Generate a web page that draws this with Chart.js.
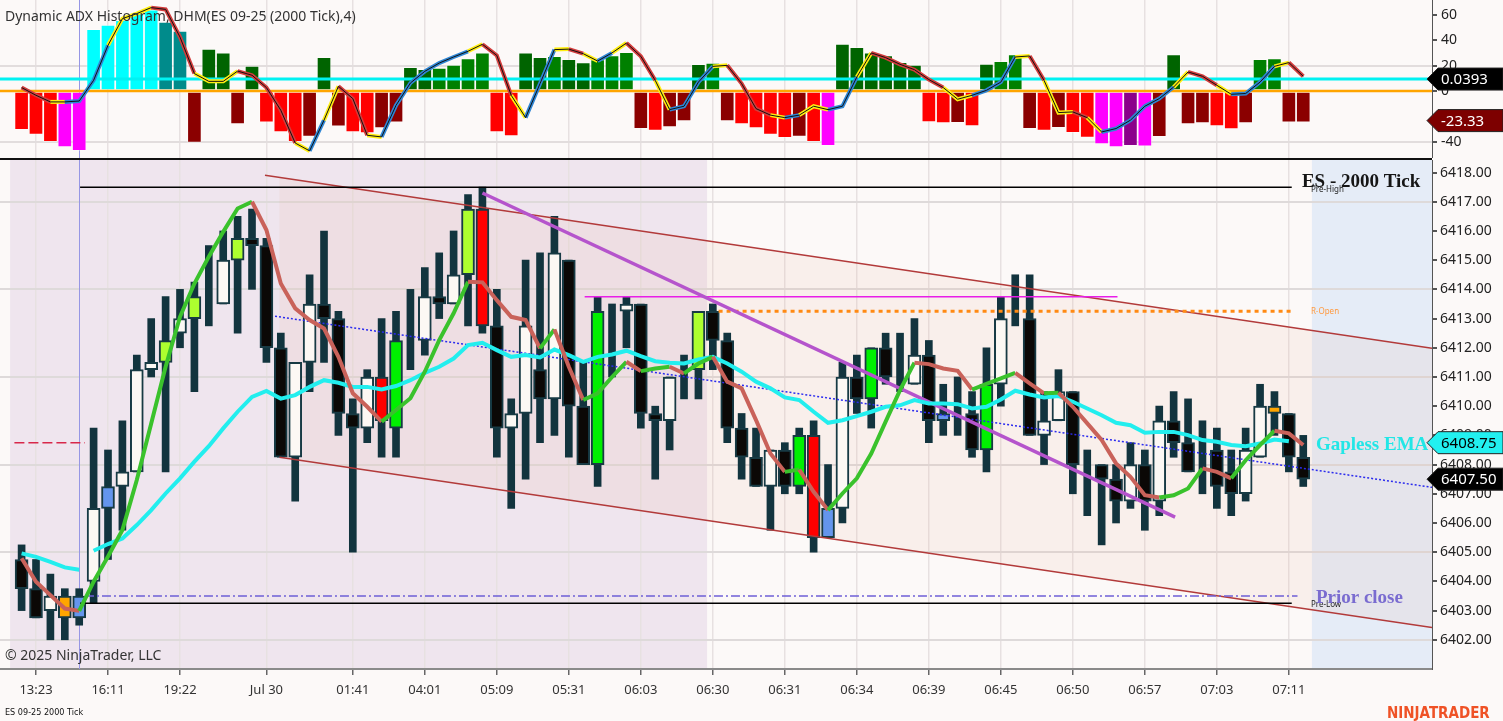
<!DOCTYPE html>
<html>
<head>
<meta charset="utf-8">
<script src="https://cdn.jsdelivr.net/npm/chart.js@4.4.1/dist/chart.umd.min.js"></script>
<style>
html, body { margin: 0; padding: 0; background: #fcf9f8; overflow: hidden; }
#wrap { position: relative; width: 1503px; height: 721px; }
canvas { position: absolute; left: 0; }
#adx { top: 0; }
#price { top: 158px; }
#sep { position: absolute; left: 0; top: 158px; width: 1432px; height: 2px; background: #111; }
</style>
</head>
<body>
<div id="wrap">
  <canvas id="adx" width="1503" height="158"></canvas>
  <canvas id="price" width="1503" height="563"></canvas>
  <div id="sep"></div>
</div>
<script>
// x axis: one slot per 2000-tick bar
const tickBars = [1, 6, 11, 17, 23, 28, 33, 38, 43, 48, 53, 58, 63, 68, 73, 78, 83, 88];
const tickLabels = ["13:23", "16:11", "19:22", "Jul 30", "01:41", "04:01", "05:09", "05:31", "06:03",
    "06:30", "06:31", "06:34", "06:39", "06:45", "06:50", "06:57", "07:03", "07:11"];

// price bars
const opens = [6404.75, 6403.75, 6403.0, 6403.5, 6402.75, 6404.0, 6406.5, 6407.25, 6407.75, 6411.25,
    6411.5, 6412.5, 6413.0, 6413.75, 6413.5, 6415.0, 6415.75, 6415.5, 6412.0, 6408.25,
    6411.5, 6413.5, 6413.0, 6409.75, 6409.25, 6411.0, 6409.25, 6412.25, 6412.25, 6413.75,
    6413.5, 6414.5, 6416.75, 6412.75, 6409.25, 6409.75, 6411.25, 6410.25, 6415.0, 6410.0,
    6408.0, 6413.25, 6413.25, 6413.5, 6409.75, 6409.5, 6411.0, 6411.25, 6413.25, 6412.25,
    6409.25, 6408.25, 6407.25, 6408.5, 6407.25, 6409.0, 6405.5, 6406.5, 6411.0, 6410.25,
    6412.0, 6411.0, 6410.75, 6411.75, 6409.5, 6409.75, 6409.75, 6408.5, 6410.75, 6413.0,
    6413.0, 6409.0, 6409.5, 6410.5, 6408.0, 6408.0, 6407.5, 6406.75, 6408.0, 6406.75,
    6409.5, 6408.75, 6408.5, 6408.5, 6407.75, 6407.0, 6408.25, 6410.0, 6409.75, 6408.25];
const highs = [6405.25, 6404.75, 6404.25, 6403.75, 6403.75, 6409.25, 6408.5, 6409.5, 6411.75, 6413.0,
    6413.75, 6414.0, 6414.25, 6415.5, 6416.0, 6416.5, 6416.75, 6415.75, 6412.5, 6411.5,
    6414.5, 6416.0, 6413.25, 6410.25, 6411.25, 6413.0, 6413.25, 6414.0, 6414.75, 6415.25,
    6416.0, 6417.25, 6417.5, 6414.0, 6410.25, 6415.0, 6415.25, 6416.5, 6415.0, 6411.5,
    6413.75, 6413.5, 6413.75, 6413.5, 6410.0, 6411.0, 6411.75, 6413.25, 6413.5, 6412.5,
    6409.75, 6409.25, 6408.5, 6408.75, 6409.25, 6409.5, 6408.0, 6411.5, 6411.75, 6412.0,
    6412.5, 6412.5, 6413.0, 6412.25, 6410.75, 6411.0, 6410.5, 6412.0, 6413.75, 6414.5,
    6414.5, 6410.5, 6411.25, 6410.5, 6408.5, 6408.0, 6408.0, 6408.75, 6408.5, 6410.0,
    6410.5, 6410.25, 6409.5, 6409.25, 6408.5, 6409.25, 6410.75, 6410.5, 6409.75, 6409.0];
const lows = [6403.0, 6402.75, 6402.0, 6402.0, 6402.5, 6403.25, 6404.75, 6405.75, 6407.75, 6411.0,
    6407.75, 6412.0, 6410.5, 6412.75, 6413.5, 6412.5, 6414.0, 6411.5, 6408.25, 6406.75,
    6410.5, 6411.5, 6409.0, 6405.0, 6408.75, 6408.25, 6408.25, 6411.25, 6411.75, 6413.0,
    6413.5, 6412.75, 6412.5, 6408.25, 6406.5, 6407.5, 6408.75, 6409.0, 6408.25, 6408.0,
    6407.25, 6411.0, 6412.0, 6409.25, 6407.5, 6408.5, 6410.25, 6410.25, 6411.25, 6408.75,
    6407.5, 6407.25, 6405.75, 6407.0, 6407.0, 6405.0, 6405.5, 6406.0, 6409.75, 6409.25,
    6410.75, 6410.5, 6410.75, 6408.75, 6409.0, 6409.0, 6408.25, 6407.75, 6410.0, 6412.75,
    6409.0, 6408.0, 6409.5, 6407.0, 6406.25, 6405.25, 6406.0, 6406.5, 6405.75, 6406.25,
    6408.25, 6407.75, 6407.0, 6406.5, 6406.25, 6406.75, 6408.25, 6409.0, 6407.75, 6407.25];
const closes = [6403.75, 6402.75, 6403.5, 6402.75, 6403.5, 6406.5, 6407.25, 6407.75, 6411.25, 6411.5,
    6412.25, 6413.0, 6413.75, 6413.75, 6415.0, 6415.75, 6415.5, 6412.0, 6408.25, 6411.5,
    6413.5, 6413.0, 6409.75, 6409.25, 6411.0, 6409.5, 6412.25, 6412.25, 6413.75, 6413.5,
    6414.5, 6416.75, 6412.75, 6409.25, 6409.75, 6412.75, 6410.25, 6415.25, 6410.0, 6408.0,
    6413.25, 6413.25, 6413.5, 6409.75, 6409.5, 6411.0, 6411.0, 6413.25, 6412.25, 6409.25,
    6408.25, 6407.25, 6408.5, 6407.25, 6409.0, 6405.5, 6406.5, 6411.0, 6410.25, 6412.0,
    6411.0, 6411.0, 6411.75, 6409.5, 6409.75, 6409.75, 6408.5, 6410.75, 6413.0, 6413.0,
    6409.0, 6409.5, 6410.5, 6408.0, 6408.0, 6407.5, 6406.75, 6408.0, 6406.75, 6409.5,
    6408.75, 6407.75, 6408.5, 6407.25, 6407.0, 6408.5, 6410.0, 6409.75, 6408.25, 6407.5];
// bars painted by a signal: L lime, G green, R red, B blue, O orange, . none
const paintSignal = ("...OB.B..." + "L.L..L...." + ".....RG..." + ".LR......." + "G......L.." +
    "....GRB..G" + "....B..G.." + ".........." + ".......O..").split("");

// gapless EMA (cyan) and fast MA (green up / salmon down)
const gaplessEma = [6404.96, 6404.84, 6404.67, 6404.48, 6404.4, 6405.05, 6405.28, 6405.47, 6405.93, 6406.44,
    6407.01, 6407.53, 6408.1, 6408.63, 6409.24, 6409.81, 6410.32, 6410.52, 6410.26, 6410.38,
    6410.66, 6410.89, 6410.8, 6410.66, 6410.66, 6410.57, 6410.69, 6410.89, 6411.14, 6411.35,
    6411.63, 6412.09, 6412.17, 6411.92, 6411.69, 6411.75, 6411.67, 6411.94, 6411.75, 6411.52,
    6411.69, 6411.77, 6411.9, 6411.71, 6411.54, 6411.49, 6411.46, 6411.6, 6411.69, 6411.46,
    6411.18, 6410.84, 6410.61, 6410.3, 6410.21, 6409.81, 6409.43, 6409.52, 6409.66, 6409.81,
    6409.98, 6410.03, 6410.21, 6410.09, 6410.09, 6410.07, 6409.92, 6409.98, 6410.23, 6410.53,
    6410.4, 6410.3, 6410.35, 6410.15, 6409.92, 6409.69, 6409.43, 6409.35, 6409.09, 6409.12,
    6409.12, 6409.01, 6408.84, 6408.78, 6408.67, 6408.63, 6408.72, 6408.86, 6408.8, null];
const emaGapAfter = 4;
const fastMa = [6404.79, 6403.99, 6403.53, 6403.07, 6402.99, 6403.99, 6404.85, 6405.76, 6407.47, 6409.41,
    6411.35, 6413.06, 6414.2, 6415.12, 6415.97, 6416.77, 6417.0, 6416.03, 6414.2, 6413.35,
    6412.95, 6412.66, 6411.69, 6410.44, 6409.98, 6409.47, 6409.87, 6410.27, 6411.18, 6412.26,
    6413.18, 6414.26, 6414.24, 6413.63, 6413.06, 6412.95, 6411.98, 6412.63, 6411.35, 6410.21,
    6410.44, 6411.0, 6411.52, 6411.2, 6411.29, 6411.35, 6411.12, 6411.46, 6411.69, 6410.84,
    6410.61, 6409.52, 6408.38, 6407.75, 6407.83, 6407.07, 6406.44, 6407.01, 6407.53, 6408.38,
    6409.47, 6410.55, 6411.49, 6411.44, 6411.29, 6411.21, 6410.57, 6410.76, 6410.95, 6411.14,
    6410.78, 6410.44, 6410.46, 6409.98, 6409.41, 6408.84, 6408.04, 6407.58, 6406.95, 6406.87,
    6406.95, 6407.18, 6407.87, 6407.75, 6407.53, 6408.15, 6408.67, 6409.16, 6409.07, 6408.67];

// drawn objects: [bar, price] pairs
const channelUpper = [[16.9, 6417.91], [97.94, 6411.98]];
const channelLower = [[17.9, 6408.25], [97.94, 6402.42]];
const regressionLine = [[17.6, 6413.08], [97.94, 6407.22]];
const trendLine = [[32.0, 6417.3], [80.1, 6406.2]];
const preHigh = [[4.06, 6417.5], [88.2, 6417.5]];
const preLow = [[4.06, 6403.25], [88.2, 6403.25]];
const priorClose = [[4.4, 6403.5], [88.6, 6403.5]];
const regularOpen = [[48.4, 6413.25], [88.2, 6413.25]];
const rangeHigh = [[39.1, 6413.75], [76.1, 6413.75]];
const overnightMark = [[-0.5, 6408.75], [4.4, 6408.75]];
const sessionRange = [-0.8, 47.6];
const futureStart = 89.6;
const sessionBreakBar = 4;

// Dynamic ADX histogram
const adxHist = [-30.4, -34.3, -39.9, -44, -47, 48.6, 52, 55.7, 61, 64,
    54.3, 47.2, -40.6, 33, 30, -26, 19.7, -24.6, -32.3, -39.9,
    -35.7, 26.5, -27.8, -32.3, -33, -29, -24.6, 18.7, 17, 18,
    20.5, 25.5, 30, -32.3, -35.4, 30, 26.5, 27.3, 25, 22.3,
    24.7, 28, 30.5, -29.6, -31, -28.3, -23.6, 21, 22, -23.6,
    -26, -29, -34.3, -36.7, -35.7, -39.9, -43, 37, 34.4, 30,
    28, 22.6, 20.5, -24.4, -25.2, -25, -27.6, 21.3, 23.4, 28.6,
    -29.6, -31, -28.9, -32.8, -36.5, -41.7, -44, -43, -43.5, -35.9,
    28.6, -26, -25.2, -27.6, -29.9, -25.2, 25, 25.5, -24.6, -24.6];
// R red, D dark red, M magenta, P purple, C cyan, T teal, g dark green, G green
const adxState = ("RRRMMCCCCC" + "TTDggDgRRR" + "DgDRRDDggG" + "GGGRRggGgg" + "GGGDRDDgGD" +
    "RRRRDRMggg" + "gggRRDRgGG" + "DRDRRMMPMD" + "gDDRRDGGDD").split("");
const adxLine = [2.7, -3.4, -8.6, -8.6, -7.9, 8.4, 36, 57, 61, 65.7,
    64.3, 42.5, 13.7, 7.6, 7.6, 15.7, 12.4, 2.7, -15.2, -41,
    -47.2, -23, 3.7, -6, -34.9, -36.2, -11.3, 6.3, 15.5, 22,
    26.8, 31.3, 36.8, 28, -3.4, -21, 5.8, 32.6, 33, 29.4,
    23.6, 30, 37.8, 27.3, 8.4, -14.7, -12, 7, 19.4, 20.2,
    5.8, -13.9, -19, -21, -19, -12, -14.7, -12, 11, 30,
    26.3, 21, 16.8, 9, 2.7, -6.5, -3.4, 0.5, 7, 26.8,
    27.6, 8.4, -17, -16.5, -21, -32.3, -29.6, -23, -12, -6,
    3.1, 15, 11.6, 4.5, -2.6, -2, 7, 19.4, 22.4, 11.6];
// segment state ending at each bar: r falling, y turning, b rising
const adxTrend = (".rrybbbyyy" + "rrryyyrrrr" + "ybyrrybbbb" + "bbyrrybbyr" + "ybyrrybbby" +
    "rrrybyybby" + "rrrrryybbb" + "yryyrybbbb" + "byrrybbbyr").split("");
const adxSignalLevel = 9.4;
const adxSignalText = "0.0393";
const adxLastValue = -23.33;
const emaLastValue = 6408.75;

const xMin = -1.5, xMax = 97.94;
const adxMin = -52.8, adxMax = 71.7;
const priceMin = 6401.0, priceMax = 6418.43;

const histPalette = { R: "#ff0000", D: "#8b0000", M: "#ff00ff", P: "#8b008b", C: "#00ffff", T: "#008b8b", g: "#006400", G: "#008000" };
const trendPalette = { r: "#d23c3c", y: "#ffee11", b: "#2f86d4" };
const paintPalette = { L: "#adff2f", G: "#00f000", R: "#ff0000", B: "#6495ed", O: "#ffa500" };

Chart.defaults.font.family = "'Noto Sans', sans-serif";
Chart.defaults.animation = false;

const pairs = (list) => list.map(p => ({ x: p[0], y: p[1] }));
const series = (values) => values.map((v, i) => ({ x: i, y: v }));

const xScale = (hidden) => ({
    type: "linear",
    min: xMin,
    max: xMax,
    offset: false,
    afterBuildTicks: (s) => { s.ticks = tickBars.map(v => ({ value: v })); },
    ticks: {
        display: !hidden,
        autoSkip: false,
        maxRotation: 0,
        padding: 7,
        color: "#333",
        font: { size: 13 },
        callback: (v, i) => tickLabels[i],
    },
    grid: { offset: false, color: "#e7e1e1", lineWidth: 1.5, drawTicks: !hidden, tickLength: 6, tickColor: "#666" },
    border: { display: !hidden, color: "#8a8a8a", width: 2 },
    afterFit: (s) => { s.height = hidden ? 0 : 52; s.paddingLeft = 0; s.paddingRight = 0; },
});

const drawTag = (ctx, y, text, bg, fg) => {
    ctx.save();
    ctx.beginPath();
    ctx.moveTo(1427, y);
    ctx.lineTo(1438, y - 11);
    ctx.lineTo(1503, y - 11);
    ctx.lineTo(1503, y + 11);
    ctx.lineTo(1438, y + 11);
    ctx.closePath();
    ctx.fillStyle = bg;
    ctx.fill();
    ctx.strokeStyle = "#222";
    ctx.lineWidth = 1;
    ctx.stroke();
    ctx.fillStyle = fg;
    ctx.font = "15px 'Noto Sans'";
    ctx.textBaseline = "middle";
    ctx.fillText(text, 1441, y + 1);
    ctx.restore();
};

const sessionLine = (chart) => {
    const { ctx, chartArea: a, scales: { x } } = chart;
    const px = Math.round(x.getPixelForValue(sessionBreakBar)) + 0.5;
    ctx.save();
    ctx.strokeStyle = "#9696e4";
    ctx.lineWidth = 1;
    ctx.beginPath();
    ctx.moveTo(px, a.top);
    ctx.lineTo(px, a.bottom);
    ctx.stroke();
    ctx.restore();
};

// ---------- top panel ----------
const adxDecor = {
    id: "adxDecor",
    beforeDraw(chart) {
        const { ctx } = chart;
        ctx.save();
        ctx.fillStyle = "#fcf9f8";
        ctx.fillRect(0, 0, chart.width, chart.height);
        ctx.restore();
    },
    beforeDatasetsDraw: sessionLine,
    afterDraw(chart) {
        const { ctx, scales: { y } } = chart;
        ctx.save();
        ctx.fillStyle = "#333";
        ctx.font = "14px 'Noto Sans'";
        ctx.fillText("Dynamic ADX Histogram, DHM(ES 09-25 (2000 Tick),4)", 5, 21);
        ctx.restore();
        drawTag(ctx, y.getPixelForValue(adxSignalLevel), adxSignalText, "#000", "#fff");
        drawTag(ctx, y.getPixelForValue(adxLastValue), adxLastValue.toFixed(2), "#7d0000", "#fff");
    },
};

new Chart(document.getElementById("adx"), {
    type: "bar",
    data: {
        datasets: [
            { type: "line", data: series(adxLine), borderColor: "#111", borderWidth: 1, pointRadius: 0, order: 0 },
            {
                type: "line", data: series(adxLine), borderWidth: 4, pointRadius: 0, order: 1,
                borderColor: trendPalette.r,
                segment: { borderColor: (c) => trendPalette[adxTrend[c.p1DataIndex]] },
            },
            { type: "line", data: [{ x: xMin, y: adxSignalLevel }, { x: xMax, y: adxSignalLevel }], borderColor: "#00f2f2", borderWidth: 3, pointRadius: 0, order: 2 },
            { type: "line", data: [{ x: xMin, y: 0 }, { x: xMax, y: 0 }], borderColor: "#ffa500", borderWidth: 2.5, pointRadius: 0, order: 3 },
            {
                type: "bar", data: series(adxHist), order: 4,
                backgroundColor: adxState.map(c => histPalette[c]),
                borderColor: "rgba(255,255,255,0.35)", borderWidth: 1, borderSkipped: false,
                barThickness: 14, grouped: false,
            },
        ],
    },
    options: {
        responsive: false,
        devicePixelRatio: 1,
        layout: { padding: 0 },
        plugins: { legend: { display: false }, tooltip: { enabled: false } },
        scales: {
            x: xScale(true),
            y: {
                position: "right",
                min: adxMin,
                max: adxMax,
                afterBuildTicks: (s) => { s.ticks = [60, 40, 20, 0, -20, -40].map(v => ({ value: v })); },
                ticks: { color: "#222", font: { size: 14 }, padding: 4 },
                grid: {
                    color: (c) => (c.tick && (c.tick.value === 20 || c.tick.value === -40)) ? "#e2dddd" : "rgba(0,0,0,0)",
                    lineWidth: 2, tickLength: 5, tickColor: "#555",
                },
                border: { color: "#555", width: 1 },
                afterFit: (s) => { s.width = 71; s.paddingTop = 0; s.paddingBottom = 0; },
            },
        },
    },
    plugins: [adxDecor],
});

// ---------- price panel ----------
const bodyColors = opens.map((o, i) => {
    if (paintSignal[i] !== ".") return paintPalette[paintSignal[i]];
    if (closes[i] > o) return "#fcf8f4";
    if (closes[i] < o) return "#0b0806";
    return "#15363f";
});

const priceDecor = {
    id: "priceDecor",
    beforeDraw(chart) {
        const { ctx, chartArea: a, scales: { x } } = chart;
        ctx.save();
        ctx.fillStyle = "#fcf9f8";
        ctx.fillRect(0, 0, chart.width, chart.height);
        const s0 = x.getPixelForValue(sessionRange[0]);
        const s1 = x.getPixelForValue(sessionRange[1]);
        ctx.fillStyle = "#efe5ee";
        ctx.fillRect(s0, a.top, s1 - s0, a.bottom - a.top);
        const f0 = x.getPixelForValue(futureStart);
        ctx.fillStyle = "#e5ecf7";
        ctx.fillRect(f0, a.top, a.right - f0, a.bottom - a.top);
        ctx.restore();
    },
    beforeDatasetsDraw: sessionLine,
    afterDraw(chart) {
        const { ctx, scales: { x, y } } = chart;
        ctx.save();
        ctx.textBaseline = "alphabetic";
        const lx = x.getPixelForValue(futureStart) - 1;

        ctx.font = "bold 19px 'Liberation Serif'";
        ctx.fillStyle = "#151515";
        ctx.fillText("ES - 2000 Tick", lx - 9, y.getPixelForValue(6417.5) + 0);

        ctx.font = "8px 'Noto Sans'";
        ctx.fillStyle = "#222";
        ctx.fillText("Pre-High", lx, y.getPixelForValue(preHigh[0][1]) + 5);
        ctx.fillText("Pre-Low", lx, y.getPixelForValue(preLow[0][1]) + 4);
        ctx.fillStyle = "#ff9a40";
        ctx.fillText("R-Open", lx, y.getPixelForValue(regularOpen[0][1]) + 3);

        ctx.font = "bold 19px 'Liberation Serif'";
        ctx.fillStyle = "#22e6e6";
        ctx.fillText("Gapless EMA", lx + 5, y.getPixelForValue(emaLastValue) + 7);
        ctx.fillStyle = "#7a6cd0";
        ctx.fillText("Prior close", lx + 5, y.getPixelForValue(priorClose[0][1]) + 7);

        ctx.font = "14px 'Noto Sans'";
        ctx.fillStyle = "#333";
        ctx.fillText("\u00a9 2025 NinjaTrader, LLC", 5, 502);

        ctx.font = "9px 'DejaVu Sans Condensed', 'Noto Sans'";
        ctx.fillStyle = "#111";
        ctx.fillText("ES 09-25 2000 Tick", 5, 557);

        ctx.font = "bold 15px 'DejaVu Sans Condensed', 'Noto Sans'";
        ctx.fillStyle = "#ef5226";
        ctx.fillText("NINJATRADER", 1387, 560);
        ctx.restore();

        drawTag(ctx, y.getPixelForValue(emaLastValue), emaLastValue.toFixed(2), "#22f0f0", "#000");
        drawTag(ctx, y.getPixelForValue(closes[closes.length - 1]), closes[closes.length - 1].toFixed(2), "#000", "#fff");
    },
};

const levelLine = (points, color, width, dash, order) => ({
    type: "line", data: pairs(points), borderColor: color, borderWidth: width,
    borderDash: dash || [], pointRadius: 0, fill: false, order: order,
});

new Chart(document.getElementById("price"), {
    type: "bar",
    data: {
        datasets: [
            {
                type: "line", data: pairs(channelUpper), borderColor: "#b23a3a", borderWidth: 1.5, pointRadius: 0,
                fill: "+1", backgroundColor: "rgba(232,170,150,0.12)", order: 8,
            },
            levelLine(channelLower, "#b23a3a", 1.5, null, 8),
            levelLine(preHigh, "#000", 1.5, null, 7),
            levelLine(preLow, "#000", 1.5, null, 7),
            levelLine(priorClose, "#6e5fd6", 1.5, [9, 3, 2, 3], 7),
            levelLine(regularOpen, "#ff8a14", 3, [4, 4], 7),
            levelLine(rangeHigh, "#e81ee8", 1.5, null, 7),
            levelLine(overnightMark, "#d8284a", 1.5, [10, 4], 7),
            levelLine(regressionLine, "#2b2bee", 1.5, [2, 2], 6),
            levelLine(trendLine, "#b554cc", 3.5, null, 5),
            {
                type: "line", data: series(gaplessEma), borderColor: "#22eeee", borderWidth: 4, pointRadius: 0,
                spanGaps: false, order: 2,
                segment: { borderColor: (c) => c.p0DataIndex === emaGapAfter ? "rgba(0,0,0,0)" : "#22eeee" },
            },
            {
                type: "line", data: series(fastMa), borderColor: "#c9625a", borderWidth: 4, pointRadius: 0, order: 1,
                segment: { borderColor: (c) => c.p1.parsed.y >= c.p0.parsed.y ? "#3ac22c" : "#c9625a" },
            },
            {
                type: "bar", data: lows.map((l, i) => ({ x: i, y: [l, highs[i]] })), order: 20,
                backgroundColor: "#12343e", borderWidth: 0, barThickness: 7, grouped: false,
            },
            {
                type: "bar", data: opens.map((o, i) => ({ x: i, y: [o, closes[i]] })), order: 19,
                backgroundColor: bodyColors, borderColor: "#173a44", borderWidth: 2, borderSkipped: false,
                barThickness: 13, grouped: false,
            },
        ],
    },
    options: {
        responsive: false,
        devicePixelRatio: 1,
        layout: { padding: { top: 2, left: 0, right: 0, bottom: 0 } },
        plugins: {
            legend: { display: false },
            tooltip: { enabled: false },
            filler: { drawTime: "beforeDatasetsDraw" },
        },
        scales: {
            x: xScale(false),
            y: {
                position: "right",
                min: priceMin,
                max: priceMax,
                afterBuildTicks: (s) => {
                    const t = [];
                    for (let v = 6418; v >= 6402; v--) t.push({ value: v });
                    s.ticks = t;
                },
                ticks: { color: "#222", font: { size: 14 }, padding: 3, callback: (v) => Number(v).toFixed(2) },
                grid: {
                    color: (c) => (c.tick && (c.tick.value - 6402) % 3 === 0) ? "#dedada" : "rgba(0,0,0,0)",
                    lineWidth: 2, tickLength: 5, tickColor: "#555",
                },
                border: { color: "#555", width: 1 },
                afterFit: (s) => { s.width = 71; s.paddingTop = 0; s.paddingBottom = 0; },
            },
        },
    },
    plugins: [priceDecor],
});
</script>
</body>
</html>
